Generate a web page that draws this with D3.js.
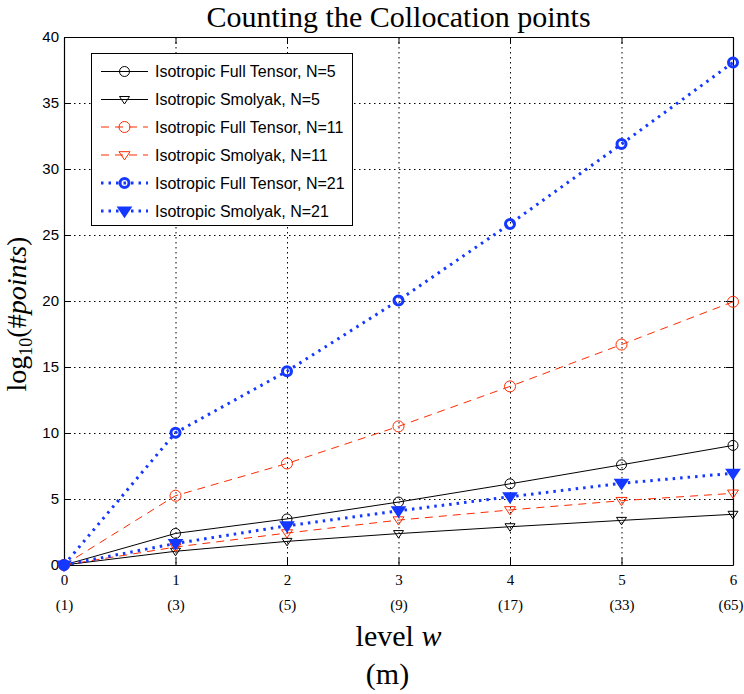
<!DOCTYPE html>
<html><head><meta charset="utf-8">
<script src="https://cdn.jsdelivr.net/npm/d3@7"></script>
<style>body{margin:0;background:#fff;} svg{display:block;}</style>
</head><body>
<svg id="c" width="744" height="694"></svg>
<script>
const levels = [0,1,2,3,4,5,6];
const xTickLabels = ["0","1","2","3","4","5","6"];
const mLabels = ["(1)","(3)","(5)","(9)","(17)","(33)","(65)"];
const yTicks = [0,5,10,15,20,25,30,35,40];
const fullN5   = [0, 2.39, 3.49, 4.77, 6.15, 7.59, 9.06];
const smolN5   = [0, 1.04, 1.79, 2.38, 2.90, 3.38, 3.84];
const fullN11  = [0, 5.25, 7.69, 10.50, 13.53, 16.70, 19.94];
const smolN11  = [0, 1.36, 2.42, 3.40, 4.17, 4.87, 5.43];
const fullN21  = [0, 10.02, 14.68, 20.04, 25.84, 31.89, 38.07];
const smolN21  = [0, 1.63, 2.97, 4.10, 5.17, 6.19, 6.95];
const seriesNames = ["Isotropic Full Tensor, N=5","Isotropic Smolyak, N=5","Isotropic Full Tensor, N=11","Isotropic Smolyak, N=11","Isotropic Full Tensor, N=21","Isotropic Smolyak, N=21"];

const BLUE = "#1438ff", RED = "#ff2a00";
const styles = [
  {data: fullN5,  color:"#000", dash:null,  lw:1, marker:"circle", fill:"none", mw:1, r:5},
  {data: smolN5,  color:"#000", dash:null,  lw:1, marker:"tri", fill:"none", mw:1, r:5},
  {data: fullN11, color:RED, dash:"8,6", lw:1, marker:"circle", fill:"none", mw:1, r:5.5},
  {data: smolN11, color:RED, dash:"8,6", lw:1, marker:"tri", fill:"none", mw:1, r:5.5},
  {data: fullN21, color:BLUE, dash:"2.5,5", lw:3, marker:"circle", fill:"none", mw:3, r:4.5},
  {data: smolN21, color:BLUE, dash:"2.5,5", lw:3, marker:"tri", fill:BLUE, mw:2, r:6}
];

const svg = d3.select("#c");
const L = 64, R = 733, T = 37, B = 565;
const x = d3.scaleLinear().domain([0,6]).range([L,R]);
const y = d3.scaleLinear().domain([0,40]).range([B,T]);

// grid
const grid = svg.append("g").attr("stroke","#000").attr("stroke-width",1).attr("stroke-dasharray","1.5,3.5");
levels.slice(1,-1).forEach(v=>grid.append("line").attr("x1",x(v)+0.5).attr("x2",x(v)+0.5).attr("y1",T).attr("y2",B));
yTicks.slice(1,-1).forEach(v=>grid.append("line").attr("x1",L).attr("x2",R).attr("y1",Math.round(y(v))+0.5).attr("y2",Math.round(y(v))+0.5));

// axes
const xAx = svg.append("g").attr("transform",`translate(0,${B})`)
  .call(d3.axisBottom(x).tickValues(levels).tickFormat((d,i)=>xTickLabels[i]).tickSizeInner(-7).tickSizeOuter(0).tickPadding(9));
xAx.selectAll("text").attr("font-family","'Liberation Serif', serif").attr("font-size",15).attr("fill","#000");
const mAx = svg.append("g").attr("transform",`translate(0,${B+28})`)
  .call(d3.axisBottom(x).tickValues(levels).tickFormat((d,i)=>mLabels[i]).tickSize(0).tickPadding(6));
mAx.select(".domain").remove();
mAx.selectAll("text").attr("font-family","'Liberation Serif', serif").attr("font-size",15).attr("fill","#000");
mAx.selectAll(".tick").filter((d,i)=>i===levels.length-1).select("text").attr("text-anchor","end").attr("dx",10);
const yAx = svg.append("g").attr("transform",`translate(${L},0)`)
  .call(d3.axisLeft(y).tickValues(yTicks).tickSizeInner(-7).tickSizeOuter(0).tickPadding(5));
yAx.selectAll("text").attr("font-family","'Liberation Sans', Arial, sans-serif").attr("font-size",15).attr("fill","#000");
svg.append("g").attr("transform",`translate(0,${T})`)
  .call(d3.axisTop(x).tickValues(levels).tickFormat("").tickSizeInner(-7).tickSizeOuter(0));
svg.append("g").attr("transform",`translate(${R},0)`)
  .call(d3.axisRight(y).tickValues(yTicks).tickFormat("").tickSizeInner(-7).tickSizeOuter(0));
svg.selectAll(".domain").attr("stroke","#000").attr("stroke-width",1.2);
svg.selectAll(".tick line").attr("stroke","#000");

// series
function drawMarker(g, cx, cy, s){
  if(s.marker==="circle"){
    g.append("circle").attr("cx",cx).attr("cy",cy).attr("r",s.r).attr("fill",s.fill).attr("stroke",s.color).attr("stroke-width",s.mw);
  } else {
    const r=s.r;
    g.append("path").attr("d",`M${cx-r},${cy-r*0.6}L${cx+r},${cy-r*0.6}L${cx},${cy+r*0.9}Z`)
      .attr("fill",s.fill).attr("stroke",s.color).attr("stroke-width",s.mw).attr("stroke-linejoin","miter");
  }
}
const line = d3.line().x((d,i)=>x(levels[i])).y(d=>y(d));
styles.forEach(s=>{
  const g = svg.append("g");
  g.append("path").attr("d",line(s.data)).attr("fill","none").attr("stroke",s.color)
    .attr("stroke-width",s.lw).attr("stroke-dasharray",s.dash);
  s.data.forEach((v,i)=>drawMarker(g, x(levels[i]), y(v), s));
});

// legend
const lg = svg.append("g");
lg.append("rect").attr("x",91.5).attr("y",53.5).attr("width",261).attr("height",172).attr("fill","#fff").attr("stroke","#000").attr("stroke-width",1);
const rowY = [71.5, 99.5, 127, 155, 183, 211];
styles.forEach((s,i)=>{
  const yy = rowY[i];
  lg.append("line").attr("x1",101).attr("x2",148).attr("y1",yy).attr("y2",yy).attr("stroke",s.color)
    .attr("stroke-width",s.lw).attr("stroke-dasharray",s.dash);
  drawMarker(lg, 124.5, yy, s);
  lg.append("text").attr("x",155).attr("y",yy+5.5).attr("font-family","'Liberation Sans', Arial, sans-serif")
    .attr("font-size",16).attr("fill","#000").text(seriesNames[i]);
});

// title
svg.append("text").attr("x",(L+R)/2).attr("y",27).attr("text-anchor","middle")
  .attr("font-family","'Liberation Serif', serif").attr("font-size",30).attr("fill","#000").text("Counting the Collocation points");

// x label
const xl = svg.append("text").attr("x",(L+R)/2).attr("y",646).attr("text-anchor","middle")
  .attr("font-family","'Liberation Serif', serif").attr("font-size",30).attr("fill","#000");
xl.append("tspan").text("level ");
xl.append("tspan").attr("font-style","italic").text("w");
svg.append("text").attr("x",(L+R)/2-11).attr("y",684).attr("text-anchor","middle")
  .attr("font-family","'Liberation Serif', serif").attr("font-size",30).attr("fill","#000").text("(m)");

// y label
const yl = svg.append("text").attr("transform",`translate(26,314) rotate(-90)`).attr("text-anchor","middle")
  .attr("font-family","'Liberation Serif', serif").attr("font-size",28).attr("fill","#000");
yl.append("tspan").text("log");
yl.append("tspan").attr("font-size",18).attr("dy",6).text("10");
yl.append("tspan").attr("dy",-6).text("(#");
yl.append("tspan").attr("font-style","italic").text("points");
yl.append("tspan").text(")");
</script>
</body></html>
